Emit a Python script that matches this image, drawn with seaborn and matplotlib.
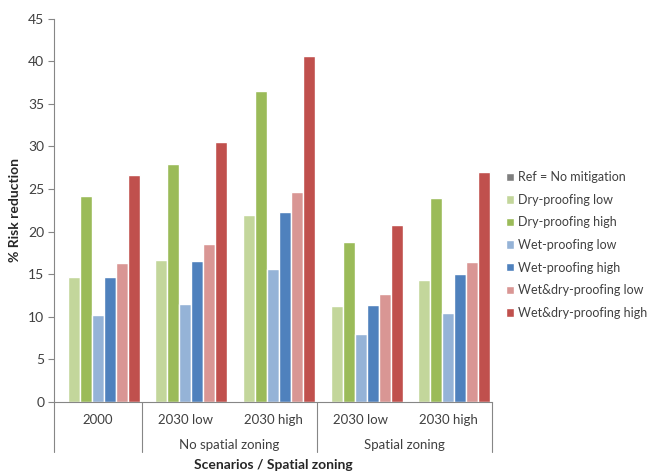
import numpy as np
import pandas as pd
from matplotlib import pyplot as plt
import matplotlib.transforms as mtransforms
import seaborn as sns

# data
scenarios = ["2000", "2030 low", "2030 high", "2030 low", "2030 high"]
zoning = ["No spatial zoning", "Spatial zoning"]
series = ["Ref = No mitigation", "Dry-proofing low", "Dry-proofing high",
          "Wet-proofing low", "Wet-proofing high",
          "Wet&dry-proofing low", "Wet&dry-proofing high"]
ref_nomit = [0, 0, 0, 0, 0]
dry_low = [14.6, 16.7, 21.9, 11.2, 14.3]
dry_high = [24.2, 27.9, 36.5, 18.8, 23.9]
wet_low = [10.2, 11.5, 15.6, 8.0, 10.4]
wet_high = [14.6, 16.5, 22.3, 11.4, 15.0]
wd_low = [16.3, 18.5, 24.7, 12.7, 16.4]
wd_high = [26.7, 30.5, 40.6, 20.8, 27.0]

colors = ["#7f7f7f", "#c3d69b", "#9bbb59", "#95b3d7", "#4f81bd", "#d99694", "#c0504d"]

# long table, unique keys per category slot
keys = ["c%d" % i for i in range(len(scenarios))]
rows = []
for name, vals in zip(series, [ref_nomit, dry_low, dry_high, wet_low, wet_high, wd_low, wd_high]):
    for k, v in zip(keys, vals):
        rows.append({"cat": k, "series": name, "value": v})
df = pd.DataFrame(rows)

sns.set_style("white")
plt.rcParams["font.family"] = ["Lato", "DejaVu Sans"]

fig = plt.figure(figsize=(6.5, 4.73), dpi=100)
ax = fig.add_axes([0.083, 0.151, 0.674, 0.809])

sns.barplot(data=df, x="cat", y="value", hue="series", hue_order=series, order=keys,
            palette=colors, width=0.96, gap=0, saturation=1, ax=ax, legend=True)

ax.set_ylim(0, 45)
ax.set_xlim(-0.5, len(keys) - 0.5)
ax.set_yticks(np.arange(0, 46, 5))
ax.tick_params(axis="y", left=True, length=4, color="#868686", labelsize=10,
               labelcolor="#404040", pad=3)
ax.tick_params(axis="x", bottom=False, labelbottom=False)
for s in ["top", "right"]:
    ax.spines[s].set_visible(False)
ax.spines["left"].set_color("#868686")
ax.spines["bottom"].set_color("#868686")
ax.set_xlabel("")
ax.set_ylabel("% Risk reduction", fontsize=10, fontweight="bold", labelpad=5)

# multi-level category axis
trans = mtransforms.blended_transform_factory(ax.transData, ax.transAxes)
for i, lab in enumerate(scenarios):
    ax.text(i, -0.048, lab, transform=trans, ha="center", va="center",
            fontsize=9.5, color="#404040")
ax.text(1.5, -0.114, zoning[0], transform=trans, ha="center", va="center",
        fontsize=9.5, color="#404040")
ax.text(3.5, -0.114, zoning[1], transform=trans, ha="center", va="center",
        fontsize=9.5, color="#404040")
for xs in [-0.5, 0.5, 2.5, 4.5]:
    ax.plot([xs, xs], [0, -0.132], transform=trans, color="#868686", lw=0.8, clip_on=False)
ax.text(0.5, -0.165, "Scenarios / Spatial zoning", transform=ax.transAxes,
        ha="center", va="center", fontsize=10, fontweight="bold")

leg = ax.get_legend()
handles = leg.legend_handles
leg.remove()
fig.legend(handles, series, loc="center left", bbox_to_anchor=(0.778, 0.482),
           frameon=False, fontsize=9, handlelength=0.65, handleheight=0.65,
           handletextpad=0.35, labelspacing=0.85, labelcolor="#404040",
           borderaxespad=0, borderpad=0)

plt.savefig("out.png", dpi=100)
